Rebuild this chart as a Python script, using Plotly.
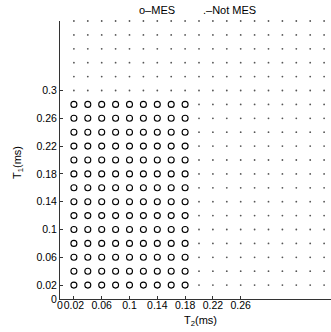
import plotly.graph_objects as go

# Grid of T2 (x) and T1 (y) values, in ms
T2_GRID = [0.02, 0.04, 0.06, 0.08, 0.10, 0.12, 0.14, 0.16, 0.18, 0.20,
           0.22, 0.24, 0.26, 0.28, 0.30, 0.32, 0.34, 0.36, 0.38, 0.40]
T1_GRID = [0.02, 0.04, 0.06, 0.08, 0.10, 0.12, 0.14, 0.16, 0.18, 0.20,
           0.22, 0.24, 0.26, 0.28, 0.30, 0.32, 0.34, 0.36, 0.38, 0.40]
# Values giving MES
MES_T2 = [0.02, 0.04, 0.06, 0.08, 0.10, 0.12, 0.14, 0.16, 0.18]
MES_T1 = [0.02, 0.04, 0.06, 0.08, 0.10, 0.12, 0.14, 0.16, 0.18, 0.20,
          0.22, 0.24, 0.26, 0.28]

X_TICKS = [0, 0.02, 0.06, 0.1, 0.14, 0.18, 0.22, 0.26]
X_TICK_LABELS = ["0", "0.02", "0.06", "0.1", "0.14", "0.18", "0.22", "0.26"]
Y_TICKS = [0, 0.02, 0.06, 0.1, 0.14, 0.18, 0.22, 0.26, 0.3]
Y_TICK_LABELS = ["0", "0.02", "0.06", "0.1", "0.14", "0.18", "0.22", "0.26", "0.3"]

mes_set_t2 = {round(v, 4) for v in MES_T2}
mes_set_t1 = {round(v, 4) for v in MES_T1}

mes_x, mes_y, not_x, not_y = [], [], [], []
for t1 in T1_GRID:
    for t2 in T2_GRID:
        if round(t2, 4) in mes_set_t2 and round(t1, 4) in mes_set_t1:
            mes_x.append(t2)
            mes_y.append(t1)
        else:
            not_x.append(t2)
            not_y.append(t1)

FONT = "Liberation Sans, Arial, Helvetica, sans-serif"

fig = go.Figure()
fig.add_trace(go.Scatter(
    x=not_x, y=not_y, mode="markers", name="Not MES",
    marker=dict(symbol="circle", size=1.8, color="#555555", line=dict(width=0)),
    cliponaxis=False, showlegend=False))
fig.add_trace(go.Scatter(
    x=mes_x, y=mes_y, mode="markers", name="MES",
    marker=dict(symbol="circle-open", size=6, color="black", line=dict(width=1.1, color="black")),
    cliponaxis=False, showlegend=False))

L, R, T, B = 60, 0, 21, 33
W, H = 331, 332
pw = W - L - R
ph = H - T - B

fig.update_layout(
    width=W, height=H,
    margin=dict(l=L, r=R, t=T, b=B, pad=0),
    paper_bgcolor="white", plot_bgcolor="white",
    font=dict(family=FONT, size=10.5, color="black"),
    xaxis=dict(range=[0, pw / 695.0], tickvals=X_TICKS, ticktext=X_TICK_LABELS,
               tickangle=0, showline=True, linecolor="#333333", linewidth=1,
               ticks="inside", ticklen=3, tickcolor="#333333",
               ticklabelstandoff=-4,
               showgrid=False, zeroline=False, fixedrange=True),
    yaxis=dict(range=[0, 0.4], tickvals=Y_TICKS, ticktext=Y_TICK_LABELS,
               showline=True, linecolor="#333333", linewidth=1,
               ticks="inside", ticklen=3, tickcolor="#333333",
               showgrid=False, zeroline=False, fixedrange=True),
    annotations=[
        dict(text="o\u2013MES", x=(156.5 - L) / pw, y=1 + (T - 9.5) / ph,
             xref="paper", yref="paper", xanchor="center", yanchor="middle",
             showarrow=False, font=dict(size=11)),
        dict(text=".\u2013Not MES", x=(229.5 - L) / pw, y=1 + (T - 9.5) / ph,
             xref="paper", yref="paper", xanchor="center", yanchor="middle",
             showarrow=False, font=dict(size=11)),
        dict(text="T<sub>2</sub>(ms)", x=(200 - L) / pw, y=(H - B - 321) / ph,
             xref="paper", yref="paper", xanchor="center", yanchor="middle",
             showarrow=False, font=dict(size=11)),
        dict(text="T<sub>1</sub>(ms)", x=(18 - L) / pw, y=(H - B - 163) / ph,
             xref="paper", yref="paper", xanchor="center", yanchor="middle",
             textangle=-90, showarrow=False, font=dict(size=11)),
    ],
)

fig.write_html("out.html", config={"displayModeBar": False},
               post_script="document.body.style.margin='0';")
